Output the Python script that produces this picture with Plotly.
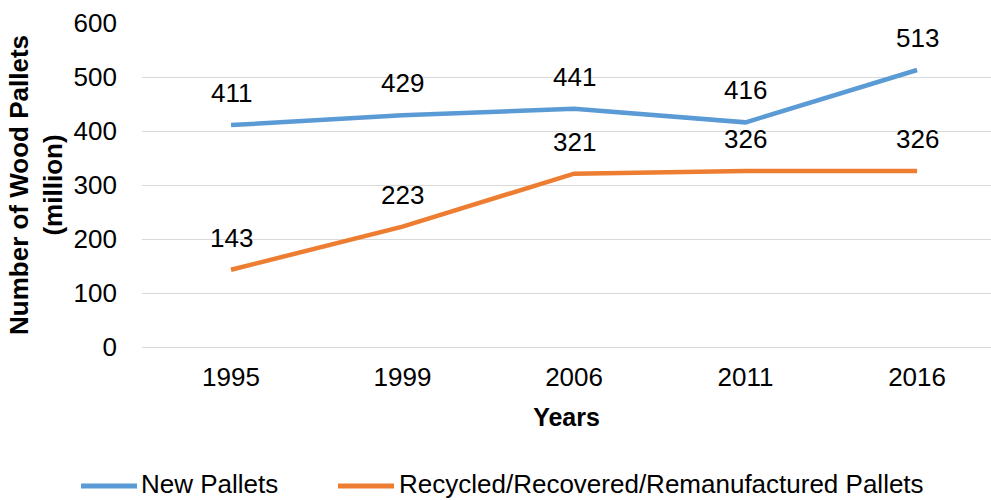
import plotly.graph_objects as go

years = ["1995", "1999", "2006", "2011", "2016"]
new_pallets = [411, 429, 441, 416, 513]
recycled_pallets = [143, 223, 321, 326, 326]
series_names = ["New Pallets", "Recycled/Recovered/Remanufactured Pallets"]
series_colors = ["#5B9BD5", "#ED7D31"]
y_ticks = [0, 100, 200, 300, 400, 500, 600]

FONT = "Liberation Sans, Arial, sans-serif"

# plot area in pixels: x 142..991, y 23..347
PL, PR, PT, PB = 142, 991, 23, 347
def px_x(p):
    return (p - PL) / (PR - PL)
def px_y(p):
    return (PB - p) / (PB - PT)

fig = go.Figure()
for name, vals, col in zip(series_names, [new_pallets, recycled_pallets], series_colors):
    fig.add_trace(go.Scatter(x=years, y=vals, mode="lines", name=name,
                             line=dict(color=col, width=4.5), hoverinfo="x+y",
                             showlegend=False))
    for i, v in enumerate(vals):
        fig.add_annotation(x=i, y=v, xref="x", yref="y", text=str(v), showarrow=False,
                           yshift=32, font=dict(family=FONT, size=26, color="#000000"))

# legend drawn in paper space (below the plot)
legend_swatches = [(81, 137, 140), (338, 394, 398)]
for (s0, s1, tx), name, col in zip(legend_swatches, series_names, series_colors):
    fig.add_shape(type="line", xref="paper", yref="paper",
                  x0=px_x(s0), x1=px_x(s1), y0=px_y(486), y1=px_y(486),
                  line=dict(color=col, width=5))
    fig.add_annotation(xref="paper", yref="paper", x=px_x(tx), y=px_y(500),
                       xanchor="left", yanchor="bottom", text=name, showarrow=False,
                       borderpad=0,
                       font=dict(family=FONT, size=26, color="#000000"))

fig.update_layout(
    width=991, height=500,
    margin=dict(l=PL, r=991 - PR, t=PT, b=500 - PB),
    plot_bgcolor="white", paper_bgcolor="white",
    font=dict(family=FONT, size=26, color="#000000"),
    showlegend=False,
    xaxis=dict(type="category", range=[-0.519, 4.431], showgrid=False, showline=False,
               zeroline=False, ticks="", ticklabelstandoff=12, automargin=False,
               tickfont=dict(size=26),
               title=dict(text="<b>Years</b>", font=dict(size=25), standoff=17)),
    yaxis=dict(range=[0, 600], tickvals=y_ticks, showgrid=True, gridcolor="#D9D9D9",
               gridwidth=1.3, zeroline=True, zerolinecolor="#D9D9D9", zerolinewidth=1.3,
               showline=False, ticks="", ticklabelstandoff=24, automargin=False,
               tickfont=dict(size=26),
               title=dict(text="<b>Number of Wood Pallets<br>(million)</b>",
                          font=dict(size=26), standoff=3)),
)

fig.write_html("out.html", config={"displayModeBar": False},
               post_script="document.body.style.margin='0';document.body.style.overflow='hidden';")
